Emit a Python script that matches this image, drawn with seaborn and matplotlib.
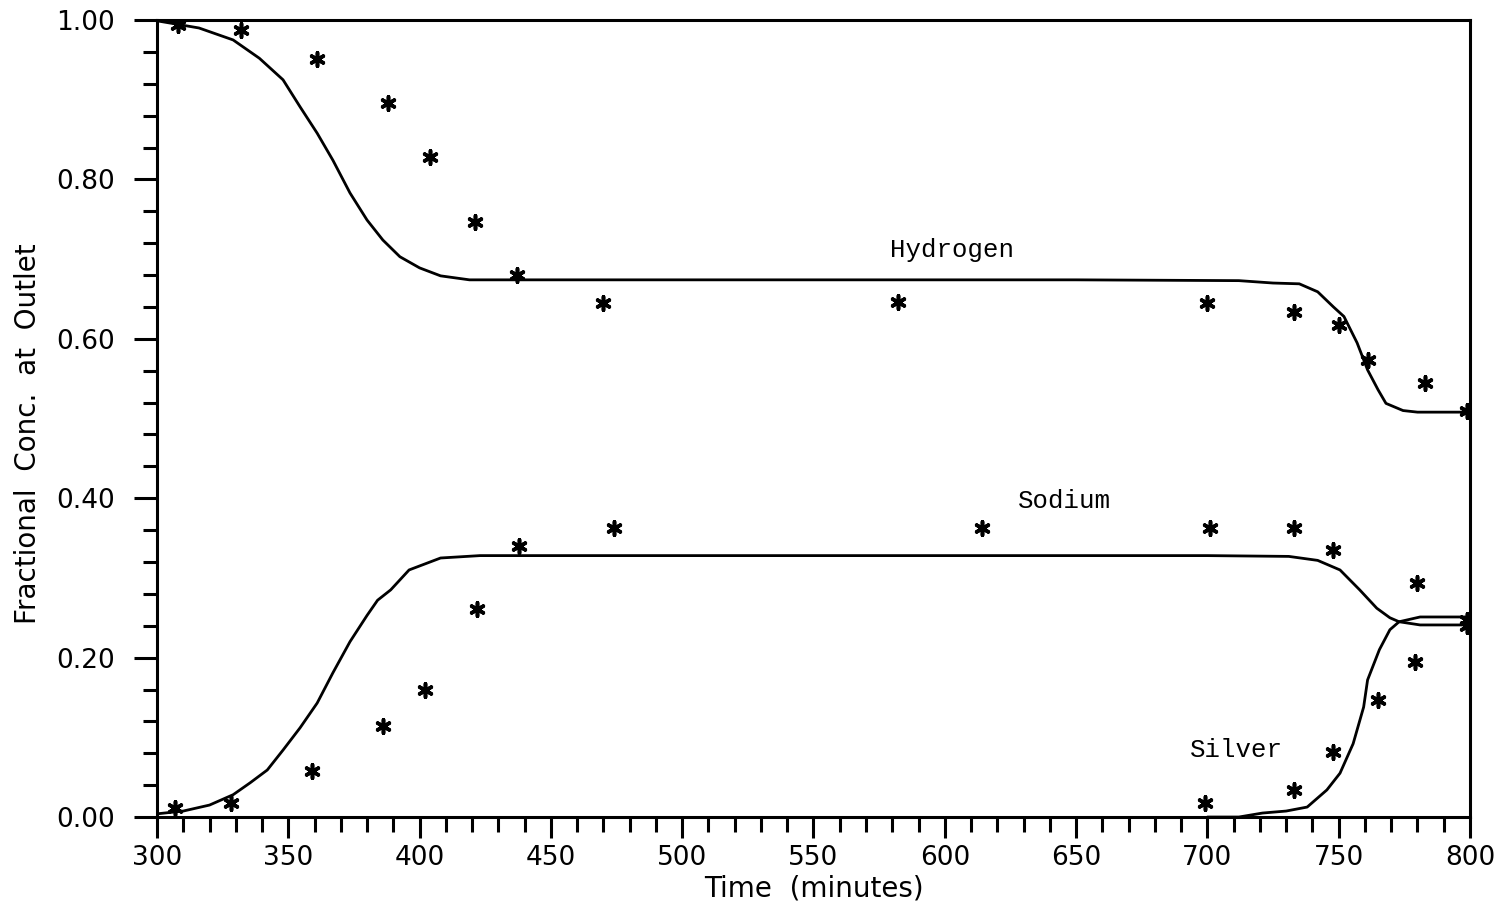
import numpy as np
import pandas as pd
import matplotlib
matplotlib.use("Agg")
import matplotlib.pyplot as plt
from matplotlib.ticker import MultipleLocator
import seaborn as sns

# Measured outlet fractions (asterisks)
h_time = [308, 332, 361, 388, 404, 421, 437, 470, 582, 700, 733, 750, 761, 783, 799]
h_frac = [0.994, 0.987, 0.951, 0.896, 0.828, 0.747, 0.680, 0.645, 0.646, 0.645, 0.634, 0.617, 0.573, 0.545, 0.509]

na_time = [307, 328, 359, 386, 402, 422, 438, 474, 614, 701, 733, 748, 780, 799]
na_frac = [0.011, 0.018, 0.058, 0.114, 0.159, 0.261, 0.340, 0.363, 0.363, 0.363, 0.363, 0.335, 0.294, 0.247]

ag_time = [699, 733, 748, 765, 779, 799]
ag_frac = [0.018, 0.034, 0.082, 0.147, 0.194, 0.240]

# Model predictions (solid curves)
h_model_t = [300, 316, 329, 339, 348, 354.5, 361, 367, 373.5, 380, 386, 392.5, 400, 408, 419, 450, 550, 650, 712,
             725, 735, 742, 748, 752, 757, 761, 765, 768, 774.5, 780, 800]
h_model_f = [0.999, 0.990, 0.975, 0.952, 0.925, 0.891, 0.858, 0.824, 0.783, 0.749, 0.724, 0.703, 0.689, 0.679, 0.674,
             0.674, 0.674, 0.674, 0.673, 0.670, 0.669, 0.659, 0.640, 0.628, 0.595, 0.561, 0.536, 0.519, 0.510, 0.508, 0.508]

na_model_t = [300, 310, 320, 329, 335.5, 342, 348, 354.5, 361, 367, 373.5, 380, 384, 389, 396, 408, 423, 500, 600,
              700, 731, 742, 750.5, 758, 764.5, 769.5, 773, 781, 800]
na_model_f = [0.004, 0.0075, 0.015, 0.028, 0.043, 0.059, 0.084, 0.112, 0.143, 0.181, 0.220, 0.253, 0.272, 0.285,
              0.310, 0.325, 0.328, 0.328, 0.328, 0.328, 0.327, 0.322, 0.310, 0.285, 0.262, 0.250, 0.245, 0.241, 0.241]

ag_model_t = [700, 712, 721, 730, 738, 745.5, 750.5, 755.5, 759.5, 761, 765.5, 769.5, 773, 781, 800]
ag_model_f = [0.000, 0.000, 0.005, 0.0075, 0.0125, 0.034, 0.055, 0.092, 0.138, 0.172, 0.210, 0.235, 0.245, 0.251, 0.251]

labels = ["Hydrogen", "Sodium", "Silver"]
label_pos = [(602.7, 0.711), (645.5, 0.396), (711, 0.084)]

sns.set_theme(style="white")
plt.rcParams["font.family"] = ["DejaVu Sans"]

fig = plt.figure(figsize=(15.08, 9.14), dpi=100)
ax = fig.add_axes([0.1041, 0.1061, 0.8707, 0.8720])

for t, f in [(h_model_t, h_model_f), (na_model_t, na_model_f), (ag_model_t, ag_model_f)]:
    sns.lineplot(x=t, y=f, ax=ax, color="black", linewidth=2.0, sort=False, estimator=None)

star = (6, 2, 0)
for t, f in [(h_time, h_frac), (na_time, na_frac), (ag_time, ag_frac)]:
    sns.scatterplot(x=t, y=f, ax=ax, marker=star, s=95, color="black",
                    linewidth=2.6, edgecolor="black", zorder=5)

for text, (tx, ty) in zip(labels, label_pos):
    ax.text(tx, ty, text, family="Liberation Mono", fontsize=18.5, ha="center", va="center", color="black")

ax.set_xlim(300, 800)
ax.set_ylim(0, 1)
ax.xaxis.set_minor_locator(MultipleLocator(10))
ax.yaxis.set_minor_locator(MultipleLocator(0.04))
ax.set_xticks(np.arange(300, 801, 50))
ax.set_xticklabels([str(v) for v in range(300, 801, 50)])
ax.set_yticks(np.arange(0, 1.01, 0.2))
ax.set_yticklabels([f"{v:.2f}" for v in np.arange(0, 1.01, 0.2)])

ax.tick_params(axis="x", which="major", direction="out", length=15, width=2.2,
               color="black", labelsize=19, labelcolor="black", pad=5, bottom=True)
ax.tick_params(axis="x", which="minor", direction="out", length=11, width=2.2,
               color="black", bottom=True)
ax.tick_params(axis="y", which="major", direction="out", length=16.5, width=2.2,
               color="black", labelsize=19, labelcolor="black", pad=14, left=True)
ax.tick_params(axis="y", which="minor", direction="out", length=10, width=2.2,
               color="black", left=True)

for side in ["left", "bottom", "right", "top"]:
    ax.spines[side].set_visible(True)
    ax.spines[side].set_color("black")
    ax.spines[side].set_linewidth(2.2)

ax.set_xlabel("Time  (minutes)", fontsize=20, color="black", labelpad=3)
ax.set_ylabel("Fractional  Conc.  at  Outlet", fontsize=20, color="black", va="center")
ax.yaxis.set_label_coords(-0.0982, 0.4806)
ax.grid(False)

fig.savefig("out.png", dpi=100, facecolor="white")
